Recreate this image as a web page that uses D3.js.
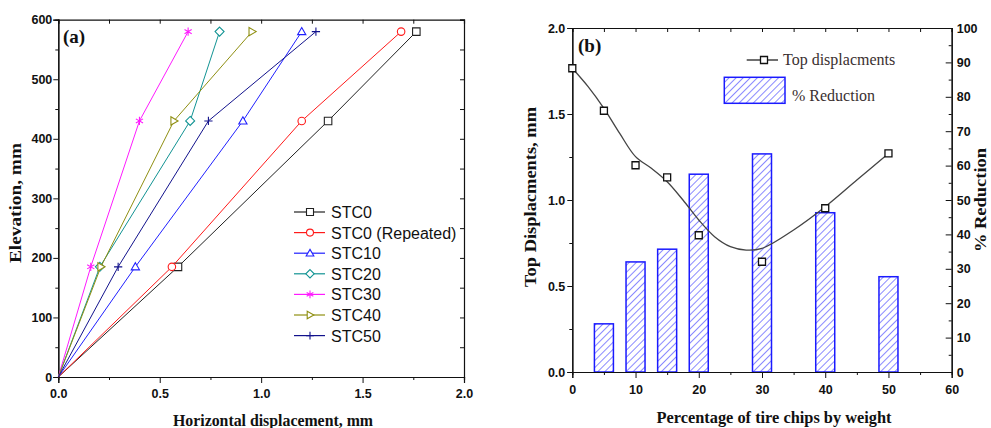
<!DOCTYPE html>
<html lang="en">
<head>
<meta charset="UTF-8">
<title>Displacement charts</title>
<script src="https://d3js.org/d3.v7.min.js"></script>
<style>
  body { margin: 0; background: #fff; }
  svg { display: block; }
  .tick text { font-family: "Liberation Sans", Arial, sans-serif; font-weight: bold; font-size: 12.5px; fill: #111; }
  .axis path, .axis line { stroke: #111; }
  .title { font-family: "Liberation Serif", "Times New Roman", serif; font-weight: bold; fill: #111; }
</style>
</head>
<body>
<svg id="chart" width="991" height="428"></svg>
<script>
// ---- panel (a) data ----
const elevation = [0, 185, 430, 580];
const seriesNames = ["STC0", "STC0 (Repeated)", "STC10", "STC20", "STC30", "STC40", "STC50"];
const stc0 = [0, 0.59, 1.33, 1.765];
const stc0Rep = [0, 0.56, 1.20, 1.69];
const stc10 = [0, 0.38, 0.91, 1.20];
const stc20 = [0, 0.205, 0.65, 0.795];
const stc30 = [0, 0.16, 0.40, 0.64];
const stc40 = [0, 0.21, 0.57, 0.955];
const stc50 = [0, 0.295, 0.74, 1.27];
const xTicksA = [0, 0.5, 1.0, 1.5, 2.0];
const yTicksA = [0, 100, 200, 300, 400, 500, 600];

// ---- panel (b) data ----
const pctChips = [0, 5, 10, 15, 20, 30, 40, 50];
const topDisp = [1.766, 1.519, 1.202, 1.132, 0.795, 0.641, 0.952, 1.271];
const barPct = [5, 10, 15, 20, 30, 40, 50];
const reduction = [14, 32, 35.7, 57.5, 63.4, 46.3, 27.7];
// fitted smooth curve
const fitX = [0, 2.5, 5, 7.5, 10, 12.5, 15, 17.5, 20, 22.5, 25, 27.5, 30, 35, 40, 45, 50];
const fitY = [1.766, 1.659, 1.533, 1.387, 1.252, 1.184, 1.106, 1.0, 0.884, 0.787, 0.729, 0.709, 0.719, 0.826, 0.961, 1.116, 1.271];
const xTicksB = [0, 10, 20, 30, 40, 50, 60];
const yTicksB = [0, 0.5, 1.0, 1.5, 2.0];
const rTicksB = [0, 10, 20, 30, 40, 50, 60, 70, 80, 90, 100];

const svg = d3.select("#chart");

// marker shapes (custom paths, centered at 0,0)
function markerPath(type, s) {
  const h = s / 2;
  switch (type) {
    case "square": return `M${-h},${-h}H${h}V${h}H${-h}Z`;
    case "circle": return `M${h},0A${h},${h} 0 1,1 ${-h},0A${h},${h} 0 1,1 ${h},0Z`;
    case "triangle": return `M0,${-h * 1.1}L${h * 1.1},${h * 0.8}L${-h * 1.1},${h * 0.8}Z`;
    case "diamond": return `M0,${-h * 1.2}L${h * 1.2},0L0,${h * 1.2}L${-h * 1.2},0Z`;
    case "asterisk": {
      const a = h * 1.1, d = a * 0.87, e = a * 0.5;
      return `M0,${-a}V${a}M${-d},${-e}L${d},${e}M${-d},${e}L${d},${-e}`;
    }
    case "triRight": return `M${-h * 0.8},${-h * 1.1}L${h * 1.1},0L${-h * 0.8},${h * 1.1}Z`;
    case "plus": return `M0,${-h * 1.1}V${h * 1.1}M${-h * 1.1},0H${h * 1.1}`;
  }
}

// ================= PANEL (a) =================
const xA = d3.scaleLinear().domain([0, 2]).range([58.3, 464]);
const yA = d3.scaleLinear().domain([0, 600]).range([377, 19.7]);

const seriesA = [
  { name: seriesNames[0], vals: stc0, color: "#222222", mk: "square" },
  { name: seriesNames[1], vals: stc0Rep, color: "#ff1a1a", mk: "circle" },
  { name: seriesNames[2], vals: stc10, color: "#2020ff", mk: "triangle" },
  { name: seriesNames[3], vals: stc20, color: "#119393", mk: "diamond" },
  { name: seriesNames[4], vals: stc30, color: "#ff1aff", mk: "asterisk" },
  { name: seriesNames[5], vals: stc40, color: "#8f8f12", mk: "triRight" },
  { name: seriesNames[6], vals: stc50, color: "#12128c", mk: "plus" }
];

const gA = svg.append("g");
// frame axes
gA.append("g").attr("class", "axis").attr("transform", `translate(0,${yA(0)})`)
  .call(d3.axisBottom(xA).tickValues(xTicksA).tickFormat(d3.format(".1f")).tickSize(6).tickPadding(6));
gA.append("g").attr("class", "axis").attr("transform", `translate(0,${yA(0)})`)
  .call(d3.axisBottom(xA).tickValues(d3.range(0.25, 2, 0.5)).tickFormat("").tickSize(3));
gA.append("g").attr("class", "axis").attr("transform", `translate(${xA(0)},0)`)
  .call(d3.axisLeft(yA).tickValues(yTicksA).tickSize(5).tickPadding(1));
gA.append("g").attr("class", "axis").attr("transform", `translate(${xA(0)},0)`)
  .call(d3.axisLeft(yA).tickValues(d3.range(50, 600, 100)).tickFormat("").tickSize(3));
gA.append("g").attr("class", "axis").attr("transform", `translate(0,${yA(600)})`)
  .call(d3.axisTop(xA).tickValues(d3.range(0, 2.01, 0.25)).tickFormat("").tickSize(-4));
gA.append("g").attr("class", "axis").attr("transform", `translate(${xA(2)},0)`)
  .call(d3.axisRight(yA).tickValues(d3.range(0, 601, 50)).tickFormat("").tickSize(-4));
gA.selectAll(".axis path").attr("stroke-width", 1.2);

const lineA = d3.line().x(d => xA(d[0])).y(d => yA(d[1]));
seriesA.forEach(s => {
  const pts = s.vals.map((v, i) => [v, elevation[i]]);
  gA.append("path").attr("d", lineA(pts)).attr("fill", "none")
    .attr("stroke", s.color).attr("stroke-width", 1);
  gA.selectAll(null).data(pts.slice(1)).enter().append("path")
    .attr("transform", d => `translate(${xA(d[0])},${yA(d[1])})`)
    .attr("d", markerPath(s.mk, 7.5))
    .attr("fill", "#fff").attr("fill-opacity", s.mk === "plus" || s.mk === "asterisk" ? 0 : 1)
    .attr("stroke", s.color).attr("stroke-width", 1.1);
});

// legend (a)
const legA = gA.append("g");
seriesA.forEach((s, i) => {
  const y = 212 + i * 20.6;
  legA.append("line").attr("x1", 294).attr("x2", 325).attr("y1", y).attr("y2", y)
    .attr("stroke", s.color).attr("stroke-width", 1.2);
  legA.append("path").attr("transform", `translate(310,${y})`).attr("d", markerPath(s.mk, 7))
    .attr("fill", "#fff").attr("stroke", s.color).attr("stroke-width", 1.1);
  legA.append("text").attr("x", 331).attr("y", y + 6)
    .attr("font-family", "'Liberation Sans', Arial, sans-serif").attr("font-size", 16)
    .attr("fill", "#111").text(s.name);
});

gA.append("text").attr("class", "title").attr("x", 63).attr("y", 43).attr("font-size", 19).text("(a)");
gA.append("text").attr("class", "title").attr("x", 273).attr("y", 426)
  .attr("text-anchor", "middle").attr("font-size", 16)
  .attr("textLength", 200).attr("lengthAdjust", "spacingAndGlyphs").text("Horizontal displacement, mm");
gA.append("text").attr("class", "title").attr("transform", `translate(21,203) rotate(-90)`)
  .attr("text-anchor", "middle").attr("font-size", 17)
  .attr("textLength", 120).attr("lengthAdjust", "spacingAndGlyphs").text("Elevation, mm");

// ================= PANEL (b) =================
const xB = d3.scaleLinear().domain([0, 60]).range([572.3, 951.7]);
const yB = d3.scaleLinear().domain([0, 2]).range([372, 28]);
const yR = d3.scaleLinear().domain([0, 100]).range([372, 28]);

const defs = svg.append("defs");
const pat = defs.append("pattern").attr("id", "hatch").attr("patternUnits", "userSpaceOnUse")
  .attr("width", 5).attr("height", 5).attr("patternTransform", "rotate(45)");
pat.append("rect").attr("width", 5).attr("height", 5).attr("fill", "#fff");
pat.append("line").attr("x1", 0).attr("y1", 0).attr("x2", 0).attr("y2", 5)
  .attr("stroke", "#3b3bff").attr("stroke-width", 1.2);

const gB = svg.append("g");
const barW = 19;
gB.selectAll(".bar").data(barPct.map((p, i) => [p, reduction[i]])).enter().append("rect")
  .attr("class", "bar")
  .attr("x", d => xB(d[0]) - barW / 2).attr("width", barW)
  .attr("y", d => yR(d[1])).attr("height", d => yR(0) - yR(d[1]))
  .attr("fill", "url(#hatch)").attr("stroke", "#1a1aff").attr("stroke-width", 1.5);

gB.append("g").attr("class", "axis").attr("transform", `translate(0,${yB(0)})`)
  .call(d3.axisBottom(xB).tickValues(xTicksB).tickSize(6).tickPadding(7));
gB.append("g").attr("class", "axis").attr("transform", `translate(0,${yB(0)})`)
  .call(d3.axisBottom(xB).tickValues(d3.range(5, 60, 10)).tickFormat("").tickSize(3));
gB.append("g").attr("class", "axis").attr("transform", `translate(${xB(0)},0)`)
  .call(d3.axisLeft(yB).tickValues(yTicksB).tickFormat(d3.format(".1f")).tickSize(5).tickPadding(2));
gB.append("g").attr("class", "axis").attr("transform", `translate(${xB(0)},0)`)
  .call(d3.axisLeft(yB).tickValues(d3.range(0.25, 2, 0.5)).tickFormat("").tickSize(3));
gB.append("g").attr("class", "axis").attr("transform", `translate(0,${yB(2)})`)
  .call(d3.axisTop(xB).tickValues(d3.range(0, 61, 5)).tickFormat("").tickSize(-4));
gB.append("g").attr("class", "axis").attr("transform", `translate(${xB(60)},0)`)
  .call(d3.axisRight(yR).tickValues(rTicksB).tickSize(-6).tickPadding(5));
gB.append("g").attr("class", "axis").attr("transform", `translate(${xB(60)},0)`)
  .call(d3.axisRight(yR).tickValues(d3.range(5, 100, 10)).tickFormat("").tickSize(-3));
gB.selectAll(".axis path").attr("stroke-width", 1.2);

const fitLine = d3.line().curve(d3.curveCatmullRom.alpha(0.5)).x(d => xB(d[0])).y(d => yB(d[1]));
gB.append("path").attr("d", fitLine(fitX.map((x, i) => [x, fitY[i]])))
  .attr("fill", "none").attr("stroke", "#444").attr("stroke-width", 1.3);

gB.selectAll(".pt").data(pctChips.map((p, i) => [p, topDisp[i]])).enter().append("path")
  .attr("class", "pt")
  .attr("transform", d => `translate(${xB(d[0])},${yB(d[1])})`)
  .attr("d", markerPath("square", 7))
  .attr("fill", "#fff").attr("stroke", "#111").attr("stroke-width", 1.3);

// legend (b)
gB.append("line").attr("x1", 746.7).attr("x2", 778).attr("y1", 60).attr("y2", 60)
  .attr("stroke", "#222").attr("stroke-width", 1.3);
gB.append("path").attr("transform", "translate(764,60)").attr("d", markerPath("square", 7))
  .attr("fill", "#fff").attr("stroke", "#111").attr("stroke-width", 1.3);
gB.append("text").attr("x", 783).attr("y", 65)
  .attr("font-family", "'Liberation Serif', 'Times New Roman', serif").attr("font-size", 16)
  .attr("fill", "#3a3030").text("Top displacments");
gB.append("rect").attr("x", 724.3).attr("y", 77.3).attr("width", 60.7).attr("height", 26)
  .attr("fill", "url(#hatch)").attr("stroke", "#1a1aff").attr("stroke-width", 1.5);
gB.append("text").attr("x", 792).attr("y", 101)
  .attr("font-family", "'Liberation Serif', 'Times New Roman', serif").attr("font-size", 16)
  .attr("fill", "#3a3030").text("% Reduction");

gB.append("text").attr("class", "title").attr("x", 578).attr("y", 52).attr("font-size", 19).text("(b)");
gB.append("text").attr("class", "title").attr("x", 774).attr("y", 423)
  .attr("text-anchor", "middle").attr("font-size", 16)
  .attr("textLength", 235).attr("lengthAdjust", "spacingAndGlyphs").text("Percentage of tire chips by weight");
gB.append("text").attr("class", "title").attr("transform", `translate(536,197) rotate(-90)`)
  .attr("text-anchor", "middle").attr("font-size", 16)
  .attr("textLength", 180).attr("lengthAdjust", "spacingAndGlyphs").text("Top Displacments, mm");
gB.append("text").attr("class", "title").attr("transform", `translate(986,200) rotate(-90)`)
  .attr("text-anchor", "middle").attr("font-size", 16)
  .attr("textLength", 104).attr("lengthAdjust", "spacingAndGlyphs").text("% Reduction");
</script>
</body>
</html>
